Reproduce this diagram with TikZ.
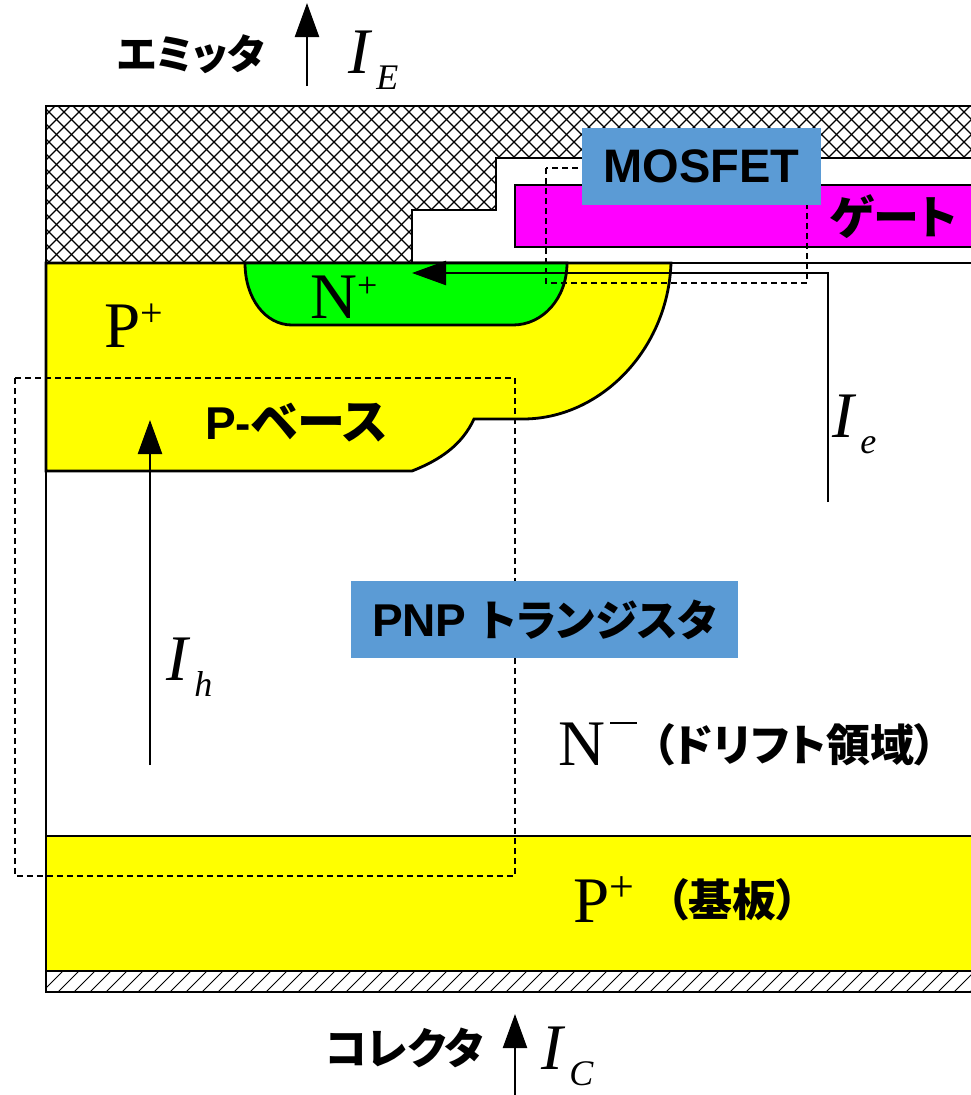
\documentclass[tikz,border=0pt]{standalone}
\usepackage{fontspec}
\setmainfont{Liberation Serif}
\setsansfont{Liberation Sans}
\newfontfamily\jpfont[RawFeature=+palt]{Noto Sans CJK JP}
\usetikzlibrary{arrows.meta}
\definecolor{boxblue}{HTML}{5B9BD5}
\definecolor{pureyellow}{HTML}{FFFF00}
\definecolor{puremagenta}{HTML}{FF00FF}
\definecolor{puregreen}{HTML}{00FF00}
\newcommand{\bigtext}{\fontsize{65}{65}\selectfont}
\newcommand{\jptext}[1][44]{\fontsize{#1}{#1}\selectfont\jpfont\bfseries}
\newcommand{\enjptext}{\fontsize{46}{46}\selectfont\sffamily\bfseries}
\newcommand{\doped}[3][40]{{\bigtext #2}\raisebox{21pt}{\fontsize{#1}{#1}\selectfont #3}}
\newcommand{\curlabel}[1]{{\bigtext\itshape I}\hspace{6.5pt}\raisebox{-16.5pt}{\fontsize{36}{36}\selectfont\itshape #1}}
\tikzset{
	wall/.style={black, line width=2.8pt},
	current/.style={black, line width=2.4pt, -{Triangle[length=34pt,width=24pt]}},
	region/.style={black, line width=2.2pt, dash pattern=on 6pt off 4pt},
	tag/.style={fill=boxblue, minimum width=#1, minimum height=77pt, inner sep=0pt},
	lbl/.style={anchor=base west, inner sep=0pt}
}
\begin{document}
\begin{tikzpicture}[x=1pt,y=-1pt]
\useasboundingbox (0,0) rectangle (971,1095);
\begin{scope}
\clip (0,0) rectangle (971,1095);

\begin{scope}
\clip (46,106) -- (971,106) -- (971,158) -- (496,158) -- (496,210) -- (412,210) -- (412,263) -- (46,263) -- cycle;
\foreach \k in {0,1,...,80} {
	\draw [line width=1.3pt] ({-188+15*\k},100) -- ++(170,170);
	\draw [line width=1.3pt] ({46+15*\k},100) -- ++(-170,170);
}
\end{scope}
\begin{scope}
\clip (46,971) rectangle (971,992);
\foreach \k in {0,1,...,60}
	\draw [line width=0.9pt] ({26+16*\k},992) -- ++(24,-24);
\end{scope}

\filldraw [wall, fill=pureyellow] (46,263) -- (671,263) .. controls (668,350) and (600,419) .. (523,419) -- (474,419) .. controls (462,445) and (440,460) .. (412,471) -- (46,471) -- cycle;
\filldraw [wall, fill=puregreen] (245,263) .. controls (245,298) and (265,325) .. (292,325) -- (513,325) .. controls (543,325) and (567,298) .. (567,263) -- cycle;
\filldraw [wall, fill=pureyellow] (46,836) rectangle (975,971);
\filldraw [wall, fill=puremagenta] (515,185) rectangle (975,247);
\draw [wall] (975,106) -- (46,106) -- (46,992) -- (975,992);
\draw [wall] (971,158) -- (496,158) -- (496,210) -- (412,210) -- (412,263) -- (971,263);

\draw [region] (546,168) rectangle (807,283);
\draw [region] (15,378) rectangle (515,876);

\coordinate (ietail) at (828,502);
\coordinate (iehead) at (412,273);
\coordinate (ihtail) at (150,765);
\coordinate (ihhead) at (150,420);
\coordinate (ietop) at (307,3);
\coordinate (ietopb) at (307,86);
\coordinate (ictail) at (515,1095);
\coordinate (ichead) at (515,1014);
\draw [current] (ietail) |- (iehead);
\draw [current] (ihtail) -- (ihhead);
\draw [current] (ietopb) -- (ietop);
\draw [current] (ictail) -- (ichead);

\node [tag=239pt] (mosfet) at (701.5,166) {\fontsize{47}{47}\selectfont\sffamily\bfseries MOSFET};
\node [tag=387pt] (pnp) at (544.5,619.5) {\enjptext PNP\hspace{14pt}\jptext[43]トランジスタ};

\node [lbl] (emitter) at (117,69) {\jptext[41]エミッタ};
\node [lbl] (collector) at (325,1064) {\jptext[43]コレクタ};
\node [lbl] (gate) at (830,234) {\jptext[46]ゲート};
\node [lbl] (base) at (205,439) {\enjptext P-\jptext[48]ベース};
\node [lbl] (ie) at (348,73) {\curlabel{E}};
\node [lbl] (ic) at (541,1069) {\curlabel{C}};
\node [lbl] (ielabel) at (832,437) {\curlabel{e}};
\node [lbl] (ih) at (166,680) {\curlabel{h}};
\node [lbl] (nplus) at (310,318) {\doped[36]{N}{+}};
\node [lbl] (pplus) at (104,347) {\doped{P}{+}};
\node [lbl] (drift) at (558,765) {{\bigtext N}\hspace{5pt}\rule[41pt]{27pt}{2pt}\hspace{15pt}\raisebox{4pt}{\jptext （ドリフト領域）}};
\node [lbl] (substrate) at (573,922) {\doped[44]{P}{+}\hspace{32pt}\raisebox{6pt}{\jptext （基板）}};
\end{scope}
\end{tikzpicture}
\end{document}
